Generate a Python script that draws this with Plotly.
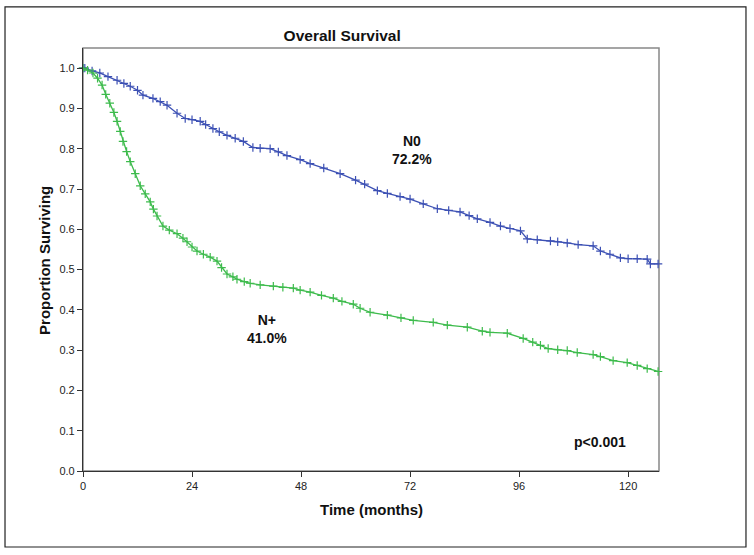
import plotly.graph_objects as go

# ---- data ----
n0_time = [0, 0.4, 2, 3.7, 5.5, 7.5, 9, 10.4, 12, 13.2, 15.4, 17, 18.5, 20.7, 22.5, 24, 25.8, 27, 28.6, 30,
           31.7, 33.5, 35.3, 37.4, 39, 41.2, 43, 44.9, 47.8, 50, 53, 56.6, 60, 62, 64.8, 67, 69.8, 72, 74.9, 78,
           80.5, 83, 85, 86.8, 89.6, 91.9, 94, 96.3, 97.8, 100, 102.9, 104.5, 106.6, 109, 112.3, 113.9, 116, 118.3,
           120, 122, 124.2, 124.9, 126.6]
n0_surv = [1.0, 1.0, 0.993, 0.988, 0.979, 0.970, 0.962, 0.955, 0.945, 0.933, 0.925, 0.917, 0.908, 0.888, 0.875,
           0.872, 0.868, 0.860, 0.850, 0.842, 0.833, 0.826, 0.818, 0.803, 0.801, 0.800, 0.792, 0.783, 0.773, 0.763,
           0.752, 0.738, 0.722, 0.712, 0.696, 0.689, 0.681, 0.675, 0.663, 0.651, 0.647, 0.643, 0.634, 0.626, 0.617,
           0.608, 0.602, 0.596, 0.576, 0.574, 0.571, 0.569, 0.566, 0.562, 0.559, 0.546, 0.538, 0.529, 0.527, 0.527,
           0.526, 0.514, 0.514]

np_time = [0, 1, 2.2, 3.2, 4.2, 5, 5.9, 6.8, 7.5, 8.2, 8.8, 9.6, 10.4, 11.5, 12.6, 13.7, 14.8, 15.5, 16.3, 17.6,
           19, 20.7, 22, 22.9, 24, 25.1, 26.5, 28, 29.5, 30.5, 31.7, 33, 33.9, 35.5, 36.8, 39, 41.9, 44, 46.3, 47.8,
           50, 52.5, 55.1, 57, 59.5, 61, 63.2, 67, 70, 72.7, 77.1, 80.2, 84.6, 87.9, 89.6, 93.4, 96.9, 99, 100.7,
           102.4, 104.5, 106.6, 108.8, 112.3, 113.9, 116.7, 119.8, 122, 124.2, 126.6]
np_surv = [1.0, 0.995, 0.988, 0.975, 0.958, 0.935, 0.913, 0.89, 0.868, 0.843, 0.818, 0.793, 0.768, 0.738, 0.708,
           0.688, 0.668, 0.65, 0.633, 0.608, 0.598, 0.589, 0.578, 0.569, 0.556, 0.546, 0.538, 0.531, 0.521, 0.505,
           0.489, 0.482, 0.476, 0.47, 0.466, 0.462, 0.459, 0.456, 0.454, 0.449, 0.444, 0.436, 0.429, 0.421, 0.414,
           0.404, 0.394, 0.387, 0.38, 0.374, 0.369, 0.362, 0.357, 0.347, 0.344, 0.342, 0.329, 0.32, 0.312, 0.304,
           0.301, 0.299, 0.294, 0.289, 0.284, 0.274, 0.269, 0.262, 0.254, 0.247]

x_ticks = [0, 24, 48, 72, 96, 120]
y_ticks = [0.0, 0.1, 0.2, 0.3, 0.4, 0.5, 0.6, 0.7, 0.8, 0.9, 1.0]

assert len(n0_time) == len(n0_surv)
assert len(np_time) == len(np_surv)

BLUE = "#3c50b4"
GREEN = "#3dbb4c"
FONT = "Arial, Liberation Sans, sans-serif"

fig = go.Figure()
for t, s, c, name in [(n0_time, n0_surv, BLUE, "N0"), (np_time, np_surv, GREEN, "N+")]:
    fig.add_trace(go.Scatter(
        x=t, y=s, mode="lines+markers", name=name, line_shape="linear",
        line=dict(color=c, width=1.3),
        marker=dict(symbol="cross-thin", size=6, line=dict(color=c, width=1.2), color=c),
        showlegend=False, cliponaxis=False))

fig.update_layout(
    width=754, height=555,
    margin=dict(l=83, r=95, t=48, b=84),
    paper_bgcolor="white", plot_bgcolor="white",
    font=dict(family=FONT, size=11, color="#222"),
    title=dict(text="<b>Overall Survival</b>", x=0.45, xref="paper", xanchor="center",
               y=1 - 36 / 555, yref="container", yanchor="middle",
               font=dict(size=15.5, color="#111", family=FONT)),
)
fig.update_xaxes(range=[0, 126.8], tickvals=x_ticks, ticks="outside", ticklen=5, tickcolor="#333",
                 showline=True, linecolor="#333", linewidth=1.2, showgrid=False, zeroline=False,
                 tickfont=dict(size=11, color="#222"))
fig.update_yaxes(range=[0, 1.05], tickvals=y_ticks, tickformat=".1f", ticks="outside", ticklen=5,
                 tickcolor="#333", showline=True, linecolor="#333", linewidth=1.2, showgrid=False,
                 zeroline=False, tickfont=dict(size=11, color="#222"))

# plot frame (gray) and outer border
fig.add_shape(type="rect", xref="paper", yref="paper", x0=0, y0=0, x1=1, y1=1,
              line=dict(color="#888", width=1.5), layer="below")
fig.add_shape(type="rect", xref="paper", yref="paper", x0=-0.1354, y0=-0.1797, x1=1.151, y1=1.097,
              line=dict(color="#222", width=1.2))

fig.add_annotation(text="<b>Time (months)</b>", xref="paper", yref="paper", x=0.5, y=-0.092,
                   showarrow=False, font=dict(size=15, color="#111"), xanchor="center", yanchor="middle")
fig.add_annotation(text="<b>Proportion Surviving</b>", xref="paper", yref="paper", x=-0.066, y=0.499,
                   textangle=-90, showarrow=False, font=dict(size=15, color="#111"),
                   xanchor="center", yanchor="middle")
fig.add_annotation(text="<b>N0<br>72.2%</b>", x=72.5, y=0.797, showarrow=False,
                   font=dict(size=14, color="#111"), align="center")
fig.add_annotation(text="<b>N+<br>41.0%</b>", x=40.5, y=0.352, showarrow=False,
                   font=dict(size=14, color="#111"), align="center")
fig.add_annotation(text="<b>p<0.001</b>", x=113.9, y=0.072, showarrow=False,
                   font=dict(size=14, color="#111"))

fig.write_html("out.html", config={"displayModeBar": False},
               post_script="document.body.style.margin='0';")
